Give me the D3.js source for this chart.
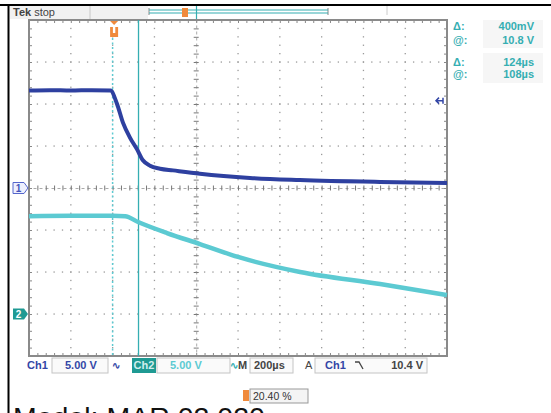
<!DOCTYPE html>
<html><head><meta charset="utf-8">
<script src="https://cdn.jsdelivr.net/npm/d3@7"></script>
<style>
html,body{margin:0;padding:0;background:#fff;}
svg{display:block;}
text{font-family:"Liberation Sans",Arial,sans-serif;}
</style></head>
<body><svg id="c" width="551" height="413"></svg>
<script>
// ---- data (time in µs relative to trigger, volts) ----
const ch1Time = [-400, -300, -200, -100, -10, 20, 50, 83, 117, 145, 179, 227, 289, 418, 657, 896, 1280, 1600];
const ch1Volts = [11.6, 11.65, 11.6, 11.65, 11.6, 10.1, 7.75, 6.0, 4.6, 3.3, 2.65, 2.3, 2.1, 1.7, 1.2, 0.95, 0.72, 0.6];
const ch2Time = [-400, -200, 0, 60, 122, 260, 418, 600, 897, 1280, 1600];
const ch2Volts = [11.65, 11.7, 11.7, 11.65, 10.95, 9.64, 8.33, 6.79, 5.0, 3.57, 2.26];
const voltsPerDiv = [5, 5];
const groundDiv = [0, -3];
const timeDomain = [-400, 1600];
const triggerTime = 0;
const cursorTime = 124;
const triggerLevel = 10.4;
const readoutLabels = ["Δ:", "@:", "Δ:", "@:"];
const readoutValues = ["400mV", "10.8 V", "124µs", "108µs"];
const statusItems = ["Ch1", "5.00 V", "Ch2", "5.00 V", "M", "200µs", "A", "Ch1", "10.4 V"];
const horizPos = "20.40 %";
const modelText = "Model: MAR 02 020";

const svg = d3.select("#c");
const L = 29, R = 447, T = 20, B = 356;
const x = d3.scaleLinear().domain(timeDomain).range([L, R]);
const y = d3.scaleLinear().domain([-4, 4]).range([B, T]);
const y1 = v => y(v / voltsPerDiv[0] + groundDiv[0]);
const y2 = v => y(v / voltsPerDiv[1] + groundDiv[1]);

const teal = "#35aeb2", blue = "#3346a6", cyan = "#5ccad2", gray = "#8a8a8a";

svg.append("rect").attr("width", 551).attr("height", 413).attr("fill", "#fff");

// top bar
svg.append("rect").attr("x", 10).attr("y", 6).attr("width", 138).attr("height", 13).attr("fill", "#f1f1f1");
svg.append("line").attr("x1", 90).attr("x2", 90).attr("y1", 6).attr("y2", 19).attr("stroke", "#c8c8c8");
svg.append("text").attr("x", 13).attr("y", 16).attr("font-size", 11).attr("fill", "#444")
  .html('<tspan font-weight="bold">Tek</tspan> stop');
// record bracket
svg.append("path").attr("d", "M149,8 V15 M328,8 V15").attr("stroke", "#999").attr("stroke-width", 1.2).attr("fill", "none");
svg.append("line").attr("x1", 149).attr("x2", 328).attr("y1", 10).attr("y2", 10).attr("stroke", teal).attr("stroke-width", 1.2);
svg.append("line").attr("x1", 149).attr("x2", 328).attr("y1", 13).attr("y2", 13).attr("stroke", teal).attr("stroke-width", 1.2);
svg.append("rect").attr("x", 182).attr("y", 8).attr("width", 6).attr("height", 9).attr("fill", "#f08a3c");
svg.append("line").attr("x1", 196.5).attr("x2", 196.5).attr("y1", 5).attr("y2", 19).attr("stroke", teal).attr("stroke-width", 1.2);
svg.append("line").attr("x1", 387).attr("x2", 387).attr("y1", 6).attr("y2", 15).attr("stroke", "#ccc");

// black borders
svg.append("line").attr("x1", 0).attr("x2", 551).attr("y1", 5).attr("y2", 5).attr("stroke", "#000").attr("stroke-width", 2);
svg.append("line").attr("x1", 8.5).attr("x2", 8.5).attr("y1", 4).attr("y2", 413).attr("stroke", "#000").attr("stroke-width", 2);

// grid dots
const g = svg.append("g");
const majorX = d3.range(-400, 1601, 200), minorX = d3.range(-400, 1601, 40);
const majorY = d3.range(-4, 4.01, 1), minorY = d3.range(-4, 4.01, 0.2);
majorX.slice(1, -1).forEach(t => {
  if (t === 400) return;
  minorY.forEach(d => g.append("rect").attr("x", x(t) - 0.6).attr("y", y(d) - 0.6).attr("width", 1.3).attr("height", 1.3).attr("fill", "#9a9a9a"));
});
majorY.slice(1, -1).forEach(d => {
  if (d === 0) return;
  minorX.forEach(t => g.append("rect").attr("x", x(t) - 0.6).attr("y", y(d) - 0.6).attr("width", 1.3).attr("height", 1.3).attr("fill", "#9a9a9a"));
});
// centre crosshair
svg.append("g").attr("transform", `translate(0,${y(0)})`)
  .call(d3.axisBottom(x).tickValues(minorX).tickSize(2.5).tickFormat(""))
  .call(a => a.select(".domain").attr("stroke", "#aaa").attr("stroke-dasharray", "3,3"))
  .call(a => a.selectAll(".tick line").attr("stroke", "#777"));
svg.append("g").attr("transform", `translate(0,${y(0)})`)
  .call(d3.axisTop(x).tickValues(minorX).tickSize(2.5).tickFormat(""))
  .call(a => a.select(".domain").remove())
  .call(a => a.selectAll(".tick line").attr("stroke", "#777"));
svg.append("g").attr("transform", `translate(${x(400)},0)`)
  .call(d3.axisRight(y).tickValues(minorY).tickSize(2.5).tickFormat(""))
  .call(a => a.select(".domain").attr("stroke", "#aaa").attr("stroke-dasharray", "3,3"))
  .call(a => a.selectAll(".tick line").attr("stroke", "#777"));
svg.append("g").attr("transform", `translate(${x(400)},0)`)
  .call(d3.axisLeft(y).tickValues(minorY).tickSize(2.5).tickFormat(""))
  .call(a => a.select(".domain").remove())
  .call(a => a.selectAll(".tick line").attr("stroke", "#777"));

// frame with inward ticks
const frame = (axis, tr) => svg.append("g").attr("transform", tr).call(axis)
  .call(a => a.select(".domain").remove())
  .call(a => a.selectAll(".tick line").attr("stroke", "#888"));
frame(d3.axisBottom(x).tickValues(minorX).tickSize(3).tickFormat(""), `translate(0,${T})`);
frame(d3.axisTop(x).tickValues(minorX).tickSize(3).tickFormat(""), `translate(0,${B})`);
frame(d3.axisRight(y).tickValues(minorY).tickSize(3).tickFormat(""), `translate(${L},0)`);
frame(d3.axisLeft(y).tickValues(minorY).tickSize(3).tickFormat(""), `translate(${R},0)`);
svg.append("rect").attr("x", L).attr("y", T).attr("width", R - L).attr("height", B - T)
  .attr("fill", "none").attr("stroke", gray).attr("stroke-width", 2);

// trigger line and cursor
svg.append("line").attr("x1", x(triggerTime)).attr("x2", x(triggerTime)).attr("y1", 38).attr("y2", B)
  .attr("stroke", cyan).attr("stroke-width", 1.5).attr("stroke-dasharray", "2,2.5");
svg.append("line").attr("x1", x(cursorTime)).attr("x2", x(cursorTime)).attr("y1", T).attr("y2", B)
  .attr("stroke", teal).attr("stroke-width", 1.3);
// trigger marker
const tx = x(triggerTime) + 1.5;
svg.append("path").attr("d", `M${tx - 4},21 H${tx + 4} L${tx},25 Z`).attr("fill", "#f08a3c");
svg.append("rect").attr("x", tx - 4).attr("y", 27).attr("width", 8).attr("height", 10).attr("fill", "#f08a3c");
svg.append("rect").attr("x", tx - 1.2).attr("y", 27).attr("width", 2.4).attr("height", 6).attr("fill", "#fff");

// traces
const line = (yf) => d3.line().x(d => x(d[0])).y(d => yf(d[1])).curve(d3.curveMonotoneX);
svg.append("path").datum(d3.zip(ch2Time, ch2Volts)).attr("d", line(y2))
  .attr("fill", "none").attr("stroke", cyan).attr("stroke-width", 4.5).attr("stroke-linejoin", "round");
svg.append("path").datum(d3.zip(ch1Time, ch1Volts)).attr("d", line(y1))
  .attr("fill", "none").attr("stroke", "#2e40a0").attr("stroke-width", 4).attr("stroke-linejoin", "round");

// trigger level arrow
const ty = y1(triggerLevel);
svg.append("path").attr("d", `M436,${ty} H443 M439,${ty - 3} L436,${ty} L439,${ty + 3} M443,${ty - 3} V${ty + 3}`)
  .attr("stroke", blue).attr("stroke-width", 1.5).attr("fill", "none");

// channel markers
const m1 = y1(0);
svg.append("path").attr("d", `M13,${m1 - 5.5} H24 L28,${m1} L24,${m1 + 5.5} H13 Z`)
  .attr("fill", "#eef0ff").attr("stroke", "#5566cc").attr("stroke-width", 1);
svg.append("text").attr("x", 18.5).attr("y", m1 + 4).attr("text-anchor", "middle").attr("font-size", 10).attr("font-weight", "bold").attr("fill", "#4455bb").text("1");
const m2 = y2(0);
svg.append("path").attr("d", `M13,${m2 - 5.5} H24 L28,${m2} L24,${m2 + 5.5} H13 Z`).attr("fill", "#1f9a93");
svg.append("text").attr("x", 18.5).attr("y", m2 + 4).attr("text-anchor", "middle").attr("font-size", 10).attr("font-weight", "bold").attr("fill", "#fff").text("2");

// readouts
svg.append("rect").attr("x", 483).attr("y", 20).attr("width", 60).attr("height", 28).attr("fill", "#f6f6f6");
svg.append("rect").attr("x", 483).attr("y", 53).attr("width", 60).attr("height", 30).attr("fill", "#f6f6f6");
const ry = [30, 44, 66, 78];
readoutLabels.forEach((s, i) => {
  svg.append("text").attr("x", 453).attr("y", ry[i]).attr("font-size", 11).attr("font-weight", "bold").attr("fill", teal).text(s);
  svg.append("text").attr("x", 534).attr("y", ry[i]).attr("text-anchor", "end").attr("font-size", 11).attr("font-weight", "bold").attr("fill", teal).text(readoutValues[i]);
});

// status bar
const sb = svg.append("g").attr("font-size", 11).attr("font-weight", "bold");
const box = (x0, x1) => sb.append("rect").attr("x", x0).attr("y", 358).attr("width", x1 - x0).attr("height", 15)
  .attr("fill", "#fafafa").attr("stroke", "#c4c4c4");
box(52, 108); box(157, 230); box(250, 293); box(315, 427);
sb.append("text").attr("x", 27).attr("y", 369).attr("fill", blue).text(statusItems[0]);
sb.append("text").attr("x", 65).attr("y", 369).attr("fill", blue).text(statusItems[1]);
sb.append("text").attr("x", 112).attr("y", 369).attr("fill", blue).attr("font-size", 10).text("∿");
sb.append("rect").attr("x", 132).attr("y", 358).attr("width", 24).attr("height", 15).attr("fill", "#1f9a93");
sb.append("text").attr("x", 144).attr("y", 369).attr("text-anchor", "middle").attr("fill", "#cfeeee").text(statusItems[2]);
sb.append("text").attr("x", 170).attr("y", 369).attr("fill", cyan).text(statusItems[3]);
sb.append("text").attr("x", 230).attr("y", 369).attr("fill", teal).attr("font-size", 10).text("∿");
sb.append("text").attr("x", 238).attr("y", 369).attr("fill", "#444").text(statusItems[4]);
sb.append("text").attr("x", 254).attr("y", 369).attr("fill", "#444").text(statusItems[5]);
sb.append("text").attr("x", 305).attr("y", 369).attr("fill", "#444").attr("font-weight", "normal").text(statusItems[6]);
sb.append("text").attr("x", 325).attr("y", 369).attr("fill", blue).text(statusItems[7]);
sb.append("path").attr("d", "M355,362 H359 L363,369").attr("stroke", "#444").attr("stroke-width", 1.3).attr("fill", "none");
sb.append("text").attr("x", 423).attr("y", 369).attr("text-anchor", "end").attr("fill", "#444").text(statusItems[8]);

// horizontal position
svg.append("rect").attr("x", 243).attr("y", 390).attr("width", 6).attr("height", 11).attr("fill", "#f08a3c");
svg.append("rect").attr("x", 250).attr("y", 389).attr("width", 58).attr("height", 14).attr("fill", "#f4f4f4").attr("stroke", "#999");
svg.append("text").attr("x", 253).attr("y", 400).attr("font-size", 10.5).attr("fill", "#333").text(horizPos);

// bottom caption (clipped by page, as in the reference)
svg.append("text").attr("x", 13).attr("y", 427).attr("font-size", 28.5).attr("fill", "#111").text(modelText);
</script></body></html>
